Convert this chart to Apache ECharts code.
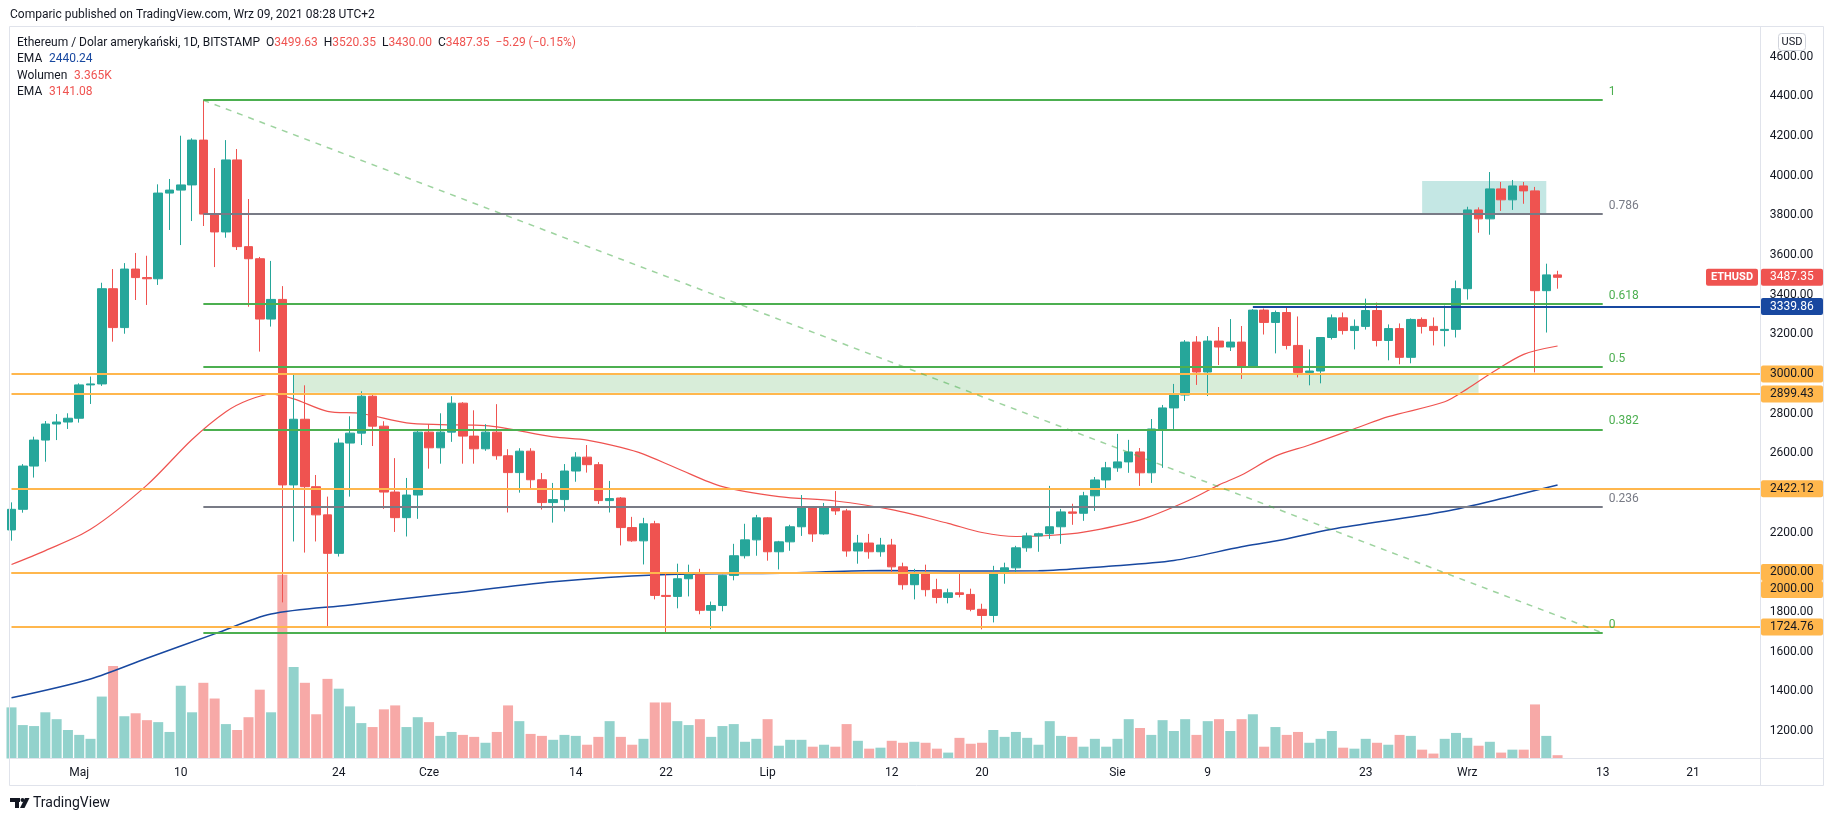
<!DOCTYPE html>
<html>
<head>
<meta charset="utf-8">
<title>ETHUSD 1D</title>
<script src="https://cdn.jsdelivr.net/npm/echarts@6/dist/echarts.min.js"></script>
<style>
  html, body { margin: 0; padding: 0; background: #fff; }
  #chart { width: 1834px; height: 821px; }
</style>
</head>
<body>
<div id="chart"></div>
<script>
// daily candles 2021-04-25 .. 2021-09-09, rows are [open, high, low, close]
var candles = [
  [2214,2353,2160,2318],[2318,2546,2301,2536],[2536,2684,2478,2667],[2667,2763,2558,2748],[2748,2798,2667,2758],[2758,2802,2723,2777],
  // May
  [2777,2953,2755,2945],[2945,2987,2849,2950],[2950,3460,2940,3430],[3430,3529,3163,3234],[3234,3559,3203,3529],
  [3529,3610,3373,3486],[3486,3596,3348,3480],[3480,3956,3449,3912],[3912,3983,3726,3927],[3927,4201,3650,3953],
  [3953,4188,3771,4179],[4179,4380,3746,3806],[3806,4038,3539,3716],[3716,4179,3687,4079],[4079,4134,3625,3642],
  [3642,3882,3339,3581],[3581,3590,3113,3277],[3277,3570,3239,3376],[3376,3443,1849,2441],[2441,2998,2156,2772],
  [2772,2943,2100,2432],[2432,2491,2156,2290],[2290,2382,1729,2096],[2096,2675,2080,2652],[2652,2787,2382,2702],
  [2702,2913,2642,2888],[2888,2896,2637,2737],[2737,2762,2320,2405],[2405,2576,2204,2276],[2276,2476,2181,2390],
  [2390,2717,2270,2707],
  // June
  [2707,2747,2523,2628],[2628,2802,2548,2707],[2707,2888,2658,2853],[2853,2858,2548,2687],[2687,2817,2548,2623],
  [2623,2747,2613,2707],[2707,2848,2568,2588],[2588,2621,2302,2503],[2503,2626,2402,2611],[2611,2626,2422,2467],
  [2467,2501,2317,2352],[2352,2451,2251,2367],[2367,2546,2307,2511],[2511,2606,2457,2581],[2581,2642,2503,2543],
  [2543,2556,2345,2362],[2362,2461,2302,2372],[2375,2380,2136,2226],[2226,2280,2154,2159],[2159,2275,2040,2245],
  [2245,2260,1864,1884],[1884,2000,1699,1879],[1879,2044,1819,1968],[1968,2039,1879,1988],[1988,2018,1789,1809],
  [1809,1853,1714,1833],[1833,1988,1804,1985],[1985,2144,1960,2084],[2084,2245,2070,2164],[2164,2290,2084,2275],
  // July
  [2275,2278,2059,2104],[2104,2159,2015,2154],[2154,2240,2109,2230],[2230,2390,2184,2327],[2327,2330,2154,2194],
  [2194,2350,2190,2325],[2325,2410,2290,2310],[2310,2320,2079,2108],[2108,2189,2044,2148],[2148,2194,2069,2104],
  [2104,2174,2079,2138],[2138,2169,2003,2028],[2028,2049,1913,1938],[1938,2018,1864,1993],[1993,2039,1879,1913],
  [1913,1968,1844,1874],[1874,1918,1844,1897],[1897,1995,1874,1889],[1889,1918,1804,1814],[1814,1842,1713,1783],
  [1783,2033,1748,1998],[1998,2049,1943,2023],[2023,2134,1993,2124],[2124,2200,2104,2184],[2184,2200,2104,2195],
  [2195,2436,2169,2230],[2230,2320,2144,2305],[2305,2346,2240,2298],[2298,2406,2260,2386],[2386,2481,2310,2466],
  [2466,2557,2416,2527],
  // August
  [2527,2698,2507,2557],[2557,2668,2502,2607],[2607,2627,2436,2502],[2502,2773,2451,2723],[2723,2844,2527,2829],
  [2829,2950,2723,2894],[2894,3171,2864,3161],[3161,3191,2945,3010],[3010,3191,2889,3166],[3166,3237,3045,3136],
  [3136,3277,3116,3161],[3161,3242,2975,3040],[3040,3327,3035,3322],[3322,3330,3199,3260],[3260,3320,3104,3310],
  [3310,3335,3124,3144],[3144,3290,2983,3008],[3008,3124,2943,3015],[3015,3184,2953,3184],[3184,3300,3174,3283],
  [3283,3310,3199,3219],[3219,3275,3124,3240],[3240,3380,3224,3320],[3320,3360,3139,3169],[3169,3250,3069,3229],
  [3229,3255,3049,3084],[3084,3280,3054,3275],[3275,3285,3204,3240],[3240,3285,3144,3219],[3219,3345,3139,3225],
  [3225,3471,3184,3430],
  // September
  [3430,3843,3375,3827],[3827,3840,3712,3782],[3782,4018,3702,3933],[3933,3968,3822,3878],[3878,3978,3827,3948],
  [3948,3968,3858,3923],[3923,3943,3008,3420],[3420,3556,3209,3499.63],[3499.63,3520.35,3430.00,3487.35]
];

// volume in thousands of ETH, one per candle
var volumes = [
  52,34,33,47,40,29,
  24,20,63,94,43,46,39,37,27,74,47,77,61,35,29,42,70,47,187,93,77,45,81,71,53,36,32,50,54,32,42,
  37,23,27,24,22,16,27,54,38,25,23,19,24,23,14,22,38,22,14,20,57,57,38,34,40,22,33,35,17,20,
  40,13,19,19,12,14,12,35,18,10,11,18,16,17,16,10,6,21,15,16,29,22,27,21,14,38,23,22,12,20,12,
  20,40,31,24,39,28,40,24,38,40,28,40,45,12,32,24,27,16,20,28,11,10,20,16,14,24,23,9,5,20,26,
  21,13,17,6,9,9,55,23,3.365
];

// moving averages: [day index, value]
var emaBlue = [[0,1368],[7,1463],[12,1567],[18,1690],[23,1790],[30,1836],[39,1895],[48,1953],[57,1987],
  [69,1997],[77,2010],[83,2007],[91,2008],[97,2030],[103,2060],[109,2129],[112,2158],[117,2218],[127,2307],
  [133,2385],[137,2440.24]];
var emaRed = [[0,2040],[3,2110],[7,2217],[12,2440],[16,2670],[19,2810],[21,2869],[23,2898],[25,2875],[28,2812],
  [31,2801],[35,2754],[38,2745],[42,2740],[48,2683],[51,2667],[54,2630],[56,2596],[59,2524],[63,2432],[68,2382],
  [73,2360],[78,2316],[83,2247],[86,2201],[89,2181],[92,2186],[95,2203],[100,2265],[104,2355],[107,2441],
  [109,2491],[112,2586],[115,2642],[119,2724],[122,2785],[127,2860],[129,2925],[131,3000],[134,3099],[137,3141.08]];

// horizontal levels (orange), the blue level and the fib retracement
var hLevels = [3000, 2899.43, 2422.12, 2000, 2000, 1724.76];
var blueLevel = 3339.86;
var fibRatios = [1, 0.786, 0.618, 0.5, 0.382, 0.236, 0];
var fibHigh = 4380, fibLow = 1695;
var priceTicks = [1200,1400,1600,1800,2000,2200,2400,2600,2800,3000,3200,3400,3600,3800,4000,4200,4400,4600];
var xLabels = {6:'Maj', 15:'10', 29:'24', 37:'Cze', 50:'14', 58:'22', 67:'Lip', 78:'12', 86:'20',
  98:'Sie', 106:'9', 120:'23', 129:'Wrz', 141:'13', 149:'21'};

var UP = '#26a69a', DOWN = '#ef5350', ORANGE = '#ffb74d', FIBG = '#4caf50', FIBGREY = '#787b86';
var BLUE = '#1848a0', TXT = '#131722';
var FONT = 'Roboto, "Noto Sans", sans-serif';

var days = [];
var d0 = Date.UTC(2021, 3, 25);
for (var k = 0; k < 156; k++) {
  days.push(new Date(d0 + k * 86400000).toISOString().slice(0, 10));
}

var fibStart = 17, fibEnd = 141;
var lines = [];
hLevels.forEach(function (v) {
  lines.push({ yAxis: v, lineStyle: { color: ORANGE, width: 2, type: 'solid' } });
});
var fibColors = [FIBG, FIBGREY, FIBG, FIBG, FIBG, FIBGREY, FIBG];
fibRatios.forEach(function (r, j) {
  var p = fibLow + r * (fibHigh - fibLow);
  lines.push([{ coord: [days[fibStart], p], lineStyle: { color: fibColors[j], width: 2, type: 'solid' } },
              { coord: [days[fibEnd], p] }]);
});
lines.push([{ coord: [days[fibStart], fibHigh], lineStyle: { color: 'rgba(76,175,80,0.55)', width: 1.5, type: [6, 6] } },
            { coord: [days[fibEnd], fibLow] }]);
lines.push([{ coord: [days[110], blueLevel], lineStyle: { color: BLUE, width: 2, type: 'solid' } },
            { coord: [days[155], blueLevel] }]);

var chart = echarts.init(document.getElementById('chart'));
chart.setOption({
  animation: false,
  backgroundColor: '#fff',
  textStyle: { fontFamily: FONT },
  grid: { left: 11.5, right: 73.3, top: 33, bottom: 62.5 },
  xAxis: {
    type: 'category', data: days, boundaryGap: false,
    axisLine: { show: false }, axisTick: { show: false }, splitLine: { show: false },
    axisLabel: {
      color: TXT, fontSize: 12, margin: 8,
      interval: function (i) { return xLabels[i] !== undefined; },
      formatter: function (v, i) { return xLabels[i] || ''; }
    }
  },
  yAxis: [{
    type: 'value', position: 'right', min: 1062, max: 4718.8,
    axisLine: { show: false }, axisTick: { show: false }, splitLine: { show: false },
    axisLabel: { color: TXT, fontSize: 12, margin: 9, customValues: priceTicks,
      formatter: function (v) { return v.toFixed(2); } }
  }, {
    type: 'value', min: 0, max: 738, show: false
  }],
  series: [{
    type: 'bar', yAxisIndex: 1, barWidth: 10, z: 1, silent: true,
    data: volumes.map(function (v, i) {
      var up = candles[i][3] >= candles[i][0];
      return { value: v, itemStyle: { color: up ? 'rgba(38,166,154,0.5)' : 'rgba(239,83,80,0.5)' } };
    })
  }, {
    type: 'candlestick', z: 3, barWidth: 9,
    data: candles.map(function (c) { return [c[0], c[3], c[2], c[1]]; }),
    itemStyle: { color: UP, color0: DOWN, borderColor: UP, borderColor0: DOWN, borderWidth: 1 },
    markLine: { symbol: ['none', 'none'], silent: true, label: { show: false }, data: lines },
    markArea: {
      silent: true,
      data: [
        [{ coord: [days[25], 2995], itemStyle: { color: 'rgba(76,175,80,0.22)' } }, { coord: [days[130], 2906] }],
        [{ coord: [days[125], 3973], itemStyle: { color: 'rgba(38,166,154,0.27)' } }, { coord: [days[136], 3806] }]
      ]
    }
  }, {
    type: 'line', z: 2, symbol: 'none', smooth: 0.3, silent: true,
    lineStyle: { color: BLUE, width: 1.5 },
    data: emaBlue.map(function (p) { return [days[p[0]], p[1]]; })
  }, {
    type: 'line', z: 2, symbol: 'none', smooth: 0.3, silent: true,
    lineStyle: { color: DOWN, width: 1.2 },
    data: emaRed.map(function (p) { return [days[p[0]], p[1]]; })
  }]
});

// overlays: frame, legend texts, price tags on the axis, fib labels
function py(v) { return chart.convertToPixel({ yAxisIndex: 0 }, v); }
function px(i) { return chart.convertToPixel({ xAxisIndex: 0 }, days[i]); }

var g = [];
g.push({ type: 'rect', shape: { x: 9.5, y: 26.5, width: 1814, height: 759 }, style: { fill: null, stroke: '#e0e3eb', lineWidth: 1 }, z: 10 });
g.push({ type: 'line', shape: { x1: 1760.5, y1: 27, x2: 1760.5, y2: 785 }, style: { stroke: '#e0e3eb', lineWidth: 1 }, z: 10 });
g.push({ type: 'line', shape: { x1: 10, y1: 758.5, x2: 1823, y2: 758.5 }, style: { stroke: '#e0e3eb', lineWidth: 1 }, z: 10 });

g.push({ type: 'text', x: 10, y: 15, z: 20, style: { text: 'Comparic published on TradingView.com, Wrz 09, 2021 08:28 UTC+2',
  fill: TXT, font: '12px ' + FONT, verticalAlign: 'middle' } });
g.push({ type: 'text', x: 17, y: 43, z: 20, style: {
  text: '{t|Ethereum / Dolar amerykański, 1D, BITSTAMP}  {t|O}{r|3499.63}  {t|H}{r|3520.35}  {t|L}{r|3430.00}  {t|C}{r|3487.35}  {r|−5.29 (−0.15%)}',
  verticalAlign: 'middle', font: '12px ' + FONT,
  rich: { t: { fill: TXT, font: '12px ' + FONT }, r: { fill: DOWN, font: '12px ' + FONT } } } });
var legendRows = [['EMA', '2440.24', BLUE, 59], ['Wolumen', '3.365K', DOWN, 76], ['EMA', '3141.08', DOWN, 92]];
legendRows.forEach(function (r) {
  g.push({ type: 'text', x: 17, y: r[3], z: 20, style: {
    text: '{t|' + r[0] + '}  {v|' + r[1] + '}', verticalAlign: 'middle',
    rich: { t: { fill: TXT, font: '12px ' + FONT }, v: { fill: r[2], font: '12px ' + FONT } } } });
});

// price tags on the right axis, pushed apart when they overlap
var tags = [{ v: 3487.35, bg: DOWN, fg: '#fff' }, { v: blueLevel, bg: BLUE, fg: '#fff' }];
hLevels.forEach(function (v) { tags.push({ v: v, bg: ORANGE, fg: TXT }); });
var lastY = -100;
tags.forEach(function (t) {
  var y = py(t.v);
  if (y < lastY + 17) y = lastY + 17;
  lastY = y;
  g.push({ type: 'rect', z: 30, shape: { x: 1761, y: y - 8.5, width: 62, height: 17, r: 2 }, style: { fill: t.bg } });
  g.push({ type: 'text', z: 31, x: 1770, y: y, style: { text: t.v.toFixed(2), fill: t.fg, font: '12px ' + FONT, verticalAlign: 'middle' } });
});
var ty = py(3487.35);
g.push({ type: 'rect', z: 30, shape: { x: 1706, y: ty - 8.5, width: 52, height: 17, r: 2 }, style: { fill: DOWN } });
g.push({ type: 'text', z: 31, x: 1732, y: ty, style: { text: 'ETHUSD', fill: '#fff', font: 'bold 11px ' + FONT, align: 'center', verticalAlign: 'middle' } });

g.push({ type: 'rect', z: 30, shape: { x: 1778.5, y: 33.5, width: 27, height: 17, r: 3 }, style: { fill: '#fff', stroke: '#d1d4dc' } });
g.push({ type: 'text', z: 31, x: 1792, y: 42, style: { text: 'USD', fill: TXT, font: '11px ' + FONT, align: 'center', verticalAlign: 'middle' } });

var fx = px(fibEnd) + 6;
fibRatios.forEach(function (r, j) {
  var p = fibLow + r * (fibHigh - fibLow);
  g.push({ type: 'text', z: 20, x: fx, y: py(p) - 8, style: { text: String(r), fill: fibColors[j], font: '12px ' + FONT, verticalAlign: 'middle' } });
});

// TradingView mark
g.push({ type: 'rect', z: 20, shape: { x: 10, y: 798, width: 10, height: 4 }, style: { fill: TXT } });
g.push({ type: 'rect', z: 20, shape: { x: 15, y: 798, width: 4, height: 10 }, style: { fill: TXT } });
g.push({ type: 'circle', z: 20, shape: { cx: 22.5, cy: 800, r: 2 }, style: { fill: TXT } });
g.push({ type: 'polygon', z: 20, shape: { points: [[25, 798], [29.5, 798], [24.5, 808], [20, 808]] }, style: { fill: TXT } });
g.push({ type: 'text', z: 20, x: 33, y: 803, style: { text: 'TradingView', fill: TXT, font: '14px ' + FONT, verticalAlign: 'middle' } });

chart.setOption({ graphic: g });
</script>
</body>
</html>
